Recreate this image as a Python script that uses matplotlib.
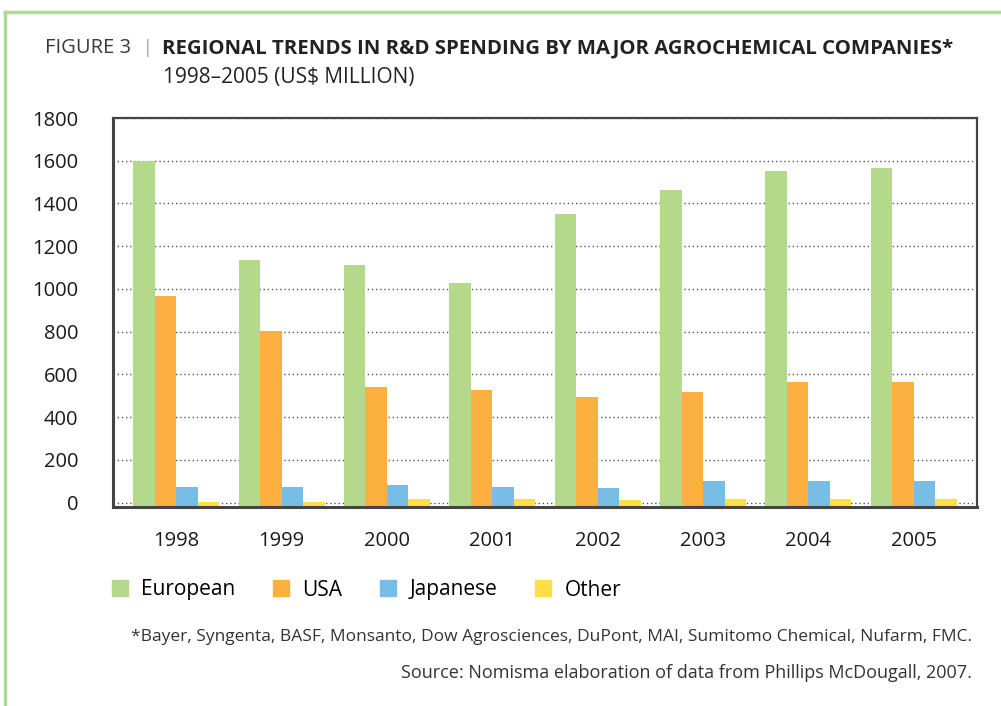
import matplotlib
matplotlib.use("Agg")
import matplotlib.pyplot as plt
from matplotlib.patches import Rectangle
from matplotlib.lines import Line2D
import numpy as np

years = ["1998", "1999", "2000", "2001", "2002", "2003", "2004", "2005"]
series_names = ["European", "USA", "Japanese", "Other"]
european = [1600, 1135, 1112, 1028, 1350, 1462, 1551, 1565]
usa = [966, 803, 542, 527, 494, 517, 564, 564]
japanese = [73, 73, 83, 73, 69, 102, 102, 102]
other = [3, 3, 17, 17, 13, 17, 17, 17]
colors = ["#b5d98b", "#fbb040", "#78bde6", "#fde047"]
yticks = [0, 200, 400, 600, 800, 1000, 1200, 1400, 1600, 1800]

plt.rcParams['font.family'] = ["Open Sans", 'DejaVu Sans']

W, H = 1001, 706
fig = plt.figure(figsize=(W/100, H/100), dpi=100)
ax = fig.add_axes([113/W, 1-507/H, 864/W, 389/H])

base = -20
x = np.arange(len(years))
w = 0.204
data = [european, usa, japanese, other]
for i, (vals, c) in enumerate(zip(data, colors)):
    v = np.array(vals)
    ax.bar(x + (i - 1.5) * w, v - base, bottom=base, width=w, color=c, zorder=2, linewidth=0)

ax.set_xlim(-0.6, 7.6)
ax.set_ylim(base, 1800)
ax.set_yticks(yticks)
ax.set_yticklabels([str(t) for t in yticks], fontsize=14.5, color="#1a1a1a")
ax.set_xticks(x)
ax.set_xticklabels(years, fontsize=14.5, color="#1a1a1a")
ax.tick_params(axis='both', length=0)
ax.tick_params(axis='y', pad=25)
ax.tick_params(axis='x', pad=17)
ax.yaxis.grid(True, linestyle=(0, (1, 2)), color="#555555", linewidth=1.0, zorder=1)
ax.set_axisbelow(True)
for s in ax.spines.values():
    s.set_color("#444444")
    s.set_linewidth(1.6)
    s.set_zorder(3)
ax.spines['bottom'].set_linewidth(2.2)
ax.spines['left'].set_linewidth(2.2)

# border lines (green)
fig.add_artist(Line2D([5/W, 1], [1-12/H, 1-12/H], color="#b0d99a", linewidth=2.5, transform=fig.transFigure))
fig.add_artist(Line2D([5/W, 5/W], [0, 1-12/H], color="#b0d99a", linewidth=2.5, transform=fig.transFigure))

# title
ty = 1-48/H
fig.text(45/W, ty, "FIGURE 3", fontsize=14.5, color="#3a3a3a", va="center", ha="left")
fig.text(147/W, ty, "|", fontsize=13, color="#666666", va="center", ha="center", fontweight="light")
fig.text(162/W, ty, "REGIONAL TRENDS IN R&D SPENDING BY MAJOR AGROCHEMICAL COMPANIES*",
         fontsize=14.68, fontweight="bold", color="#222222", va="center", ha="left")
fig.text(163/W, 1-78/H, "1998\u20132005 (US$ MILLION)", fontsize=15, color="#222222", va="center", ha="left")

# legend
handles = [Rectangle((0, 0), 1, 1, color=c) for c in colors]
fig.legend(handles, series_names, loc="center left", bbox_to_anchor=(112/W, 1-590/H),
           ncol=4, frameon=False, fontsize=15, handlelength=0.77, handleheight=0.77,
           columnspacing=1.83, handletextpad=0.62, borderpad=0, borderaxespad=0)

fig.text(972/W, 1-637/H, "*Bayer, Syngenta, BASF, Monsanto, Dow Agrosciences, DuPont, MAI, Sumitomo Chemical, Nufarm, FMC.",
         fontsize=12.5, color="#333333", ha="right", va="center")
fig.text(972/W, 1-673/H, "Source: Nomisma elaboration of data from Phillips McDougall, 2007.",
         fontsize=13.0, color="#333333", ha="right", va="center")

fig.savefig("out.png", dpi=100)
